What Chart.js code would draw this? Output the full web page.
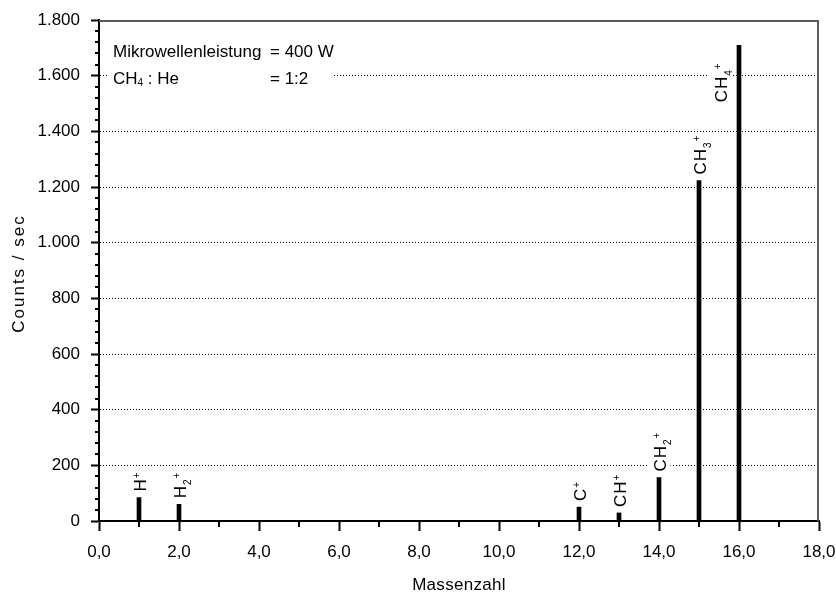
<!DOCTYPE html>
<html><head><meta charset="utf-8">
<script src="https://cdn.jsdelivr.net/npm/chart.js@4/dist/chart.umd.min.js"></script>
<style>html,body{margin:0;padding:0;background:#fff}#wrap{width:836px;height:593px}</style>
</head><body><div id="wrap"><canvas id="c" width="836" height="593"></canvas></div>
<script>
// ---- data ----
const masses = [1, 2, 12, 13, 14, 15, 16];
const counts = [84, 60, 50, 29, 156, 1223, 1709];
const ionBase = ['H', 'H', 'C', 'CH', 'CH', 'CH', 'CH'];
const ionSub = ['', '2', '', '', '2', '3', '4'];
const ionCharge = ['+', '+', '+', '+', '+', '+', '+'];
const xTicks = [0, 2, 4, 6, 8, 10, 12, 14, 16, 18];
const yTicks = [0, 200, 400, 600, 800, 1000, 1200, 1400, 1600, 1800];
const xTitle = 'Massenzahl';
const yTitle = 'Counts / sec';
const infoNames = [[{t: 'Mikrowellenleistung'}], [{t: 'CH'}, {t: '4', sub: true}, {t: ' : He'}]];
const infoValues = ['= 400 W', '= 1:2'];

// ---- styling ----
const FONT = "'Liberation Sans', Arial, sans-serif";
Chart.defaults.font.family = FONT;
Chart.defaults.font.size = 17;
Chart.defaults.color = '#000';

function fmtX(v) { return v.toFixed(1).replace('.', ','); }
function fmtY(v) {
  if (v >= 1000) return Math.floor(v / 1000) + '.' + String(v % 1000).padStart(3, '0');
  return String(v);
}

function richWidth(ctx, parts, size, subSize) {
  let w = 0;
  for (const p of parts) {
    ctx.font = ((p.sub || p.sup) ? subSize : size) + 'px ' + FONT;
    w += ctx.measureText(p.t).width;
  }
  return w;
}
function drawRich(ctx, parts, x, y, size, subSize, subDy, supDy) {
  let cx = x;
  for (const p of parts) {
    ctx.font = ((p.sub || p.sup) ? subSize : size) + 'px ' + FONT;
    const dy = p.sub ? subDy : (p.sup ? supDy : 0);
    ctx.fillText(p.t, cx, y + dy);
    cx += ctx.measureText(p.t).width;
  }
  return cx;
}

const extras = {
  id: 'extras',
  afterDatasetsDraw(chart) {
    const ctx = chart.ctx;
    const xs = chart.scales.x, ys = chart.scales.y;
    const ca = chart.chartArea;
    ctx.save();
    // minor ticks
    ctx.strokeStyle = '#000';
    ctx.lineWidth = 2;
    ctx.beginPath();
    for (let v = 40; v < 1800; v += 40) {
      if (v % 200 === 0) continue;
      const py = Math.round(ys.getPixelForValue(v));
      ctx.moveTo(ca.left - 4, py); ctx.lineTo(ca.left, py);
    }
    for (let v = 1; v < 18; v += 2) {
      const px = Math.round(xs.getPixelForValue(v));
      ctx.moveTo(px, ca.bottom); ctx.lineTo(px, ca.bottom + 6);
    }
    ctx.stroke();
    // frame top/right
    ctx.strokeStyle = '#5a5a5a';
    ctx.beginPath();
    ctx.moveTo(ca.left, ca.top + 1); ctx.lineTo(ca.right - 1, ca.top + 1); ctx.lineTo(ca.right - 1, ca.bottom);
    ctx.stroke();

    // info box
    ctx.fillStyle = '#fff';
    ctx.fillRect(ca.left + 9, ca.top + 16, 226, 70);
    ctx.fillStyle = '#000';
    ctx.textBaseline = 'alphabetic';
    ctx.textAlign = 'left';
    const lineY = [ca.top + 36.5, ca.top + 64];
    for (let i = 0; i < infoNames.length; i++) {
      drawRich(ctx, infoNames[i], ca.left + 14, lineY[i], 17, 10, 2, -7);
      ctx.font = '17px ' + FONT;
      ctx.fillText(infoValues[i], ca.left + 171, lineY[i]);
    }

    // ion labels
    ctx.letterSpacing = '1px';
    for (let i = 0; i < masses.length; i++) {
      const bx = xs.getPixelForValue(masses[i]);
      const by = ys.getPixelForValue(counts[i]);
      const parts = [{t: ionBase[i]}];
      if (ionSub[i]) parts.push({t: ionSub[i], sub: true});
      parts.push({t: ionCharge[i], sup: true});
      const w = richWidth(ctx, parts, 17, 10);
      let lx = bx, ly = by - 6;
      if (ly - w < ca.top + 20) { lx = bx - 19; ly = by + 57; }
      ctx.save();
      ctx.translate(lx, ly);
      ctx.rotate(-Math.PI / 2);
      ctx.fillStyle = '#fff';
      ctx.fillRect(-2, -11.5, w + 2, 23);
      ctx.fillStyle = '#000';
      ctx.textBaseline = 'alphabetic';
      drawRich(ctx, parts, 0, 6.5, 17, 10, 5, -6);
      ctx.restore();
    }

    // axis titles
    ctx.font = '17px ' + FONT;
    ctx.textAlign = 'center';
    ctx.textBaseline = 'middle';
    ctx.letterSpacing = '0.3px';
    ctx.fillText(xTitle, (ca.left + ca.right) / 2, 585);
    ctx.save();
    ctx.translate(19, (ca.top + ca.bottom) / 2 + 3);
    ctx.rotate(-Math.PI / 2);
    ctx.letterSpacing = '2px';
    ctx.fillText(yTitle, 0, 0);
    ctx.restore();
    ctx.restore();
  }
};

new Chart(document.getElementById('c'), {
  type: 'bar',
  data: {
    datasets: [{
      data: masses.map((m, i) => ({x: m, y: counts[i]})),
      backgroundColor: '#000',
      borderWidth: 0,
      barThickness: 4
    }]
  },
  options: {
    responsive: false,
    animation: false,
    events: [],
    layout: {padding: {top: 20, right: 17, left: 0, bottom: 0}},
    plugins: {legend: {display: false}, tooltip: {enabled: false}, title: {display: false}},
    scales: {
      x: {
        type: 'linear', min: 0, max: 18, offset: false,
        afterBuildTicks: s => { s.ticks = xTicks.map(v => ({value: v})); },
        afterFit: s => { s.height = 72; s.paddingLeft = 0; s.paddingRight = 0; },
        ticks: {callback: v => fmtX(v), padding: 11, maxRotation: 0, autoSkip: false, font: {size: 17}},
        grid: {offset: false, drawOnChartArea: false, drawTicks: true, tickLength: 10, tickWidth: 2, tickColor: '#000'},
        border: {color: '#000', width: 2}
      },
      y: {
        type: 'linear', min: 0, max: 1800,
        afterBuildTicks: s => { s.ticks = yTicks.map(v => ({value: v})); },
        afterFit: s => { s.width = 99; s.paddingTop = 0; s.paddingBottom = 0; },
        ticks: {callback: v => fmtY(v), padding: 11, font: {size: 17}},
        grid: {
          drawOnChartArea: true, drawTicks: true, tickLength: 8, tickWidth: 2, tickColor: '#000',
          lineWidth: 1,
          tickBorderDash: [],
          color: c => (c.tick && (c.tick.value === 0 || c.tick.value === 1800)) ? 'rgba(0,0,0,0)' : '#000'
        },
        border: {color: '#000', width: 2, dash: [1, 2]}
      }
    }
  },
  plugins: [extras]
});
</script>
</body></html>
